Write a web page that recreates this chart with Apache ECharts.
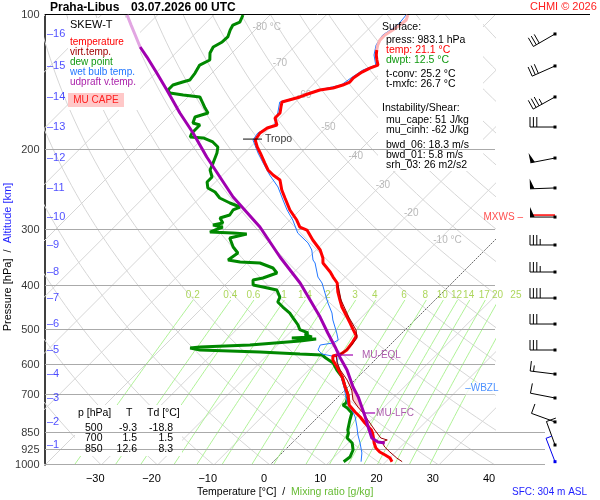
<!DOCTYPE html>
<html><head><meta charset="utf-8">
<script src="https://cdn.jsdelivr.net/npm/echarts@6/dist/echarts.min.js"></script>
<style>html,body{margin:0;padding:0;background:#fff}#c{width:600px;height:500px}</style>
</head><body><div id="c"></div>
<script>
// ---------------- data ----------------
const tempP = [100,102.6,105.3,108,110.8,113.7,116.6,119.6,122.7,125.9,129.2,131.2,133.9,138,140.9,143.1,145.3,146.8,150.6,152.1,156.1,160.1,165.1,169.4,175.6,178.3,182.9,189.6,196.5,202.6,213.3,221,226.8,232.6,244.8,255.1,271.2,285.5,295.9,300.5,316.2,332.8,346.7,355.7,372.5,382.2,394.1,412.6,429.9,445.6,469,483.6,500,516.7,535.6,555.2,566.7,572.5,584.3,605.6,637.6,671,700,735.6,762.4,782.1,806.5,836,850,871,893.5,916.7,935.6,950.1,965,983.1];
const tempT = [-55.5,-54.9,-55.1,-55.5,-56.0,-56.0,-55.5,-54.8,-54.0,-53.0,-51.9,-52.8,-53.5,-54.0,-53.9,-54.6,-55.8,-57.8,-59.6,-60.1,-62.4,-61.7,-60.8,-60.8,-59.2,-60.4,-60.8,-60.4,-58.8,-57.2,-54.6,-52.8,-51.0,-48.9,-46.8,-44.8,-41.8,-38.8,-37.0,-35.2,-32.4,-29.3,-27.4,-26.5,-23.6,-22.2,-20.4,-18.7,-16.9,-15.3,-12.6,-11.0,-9.3,-7.6,-7.1,-6.8,-7.1,-8.2,-7.5,-5.5,-2.8,-0.5,1.5,3.4,5.7,7.5,9.4,11.8,12.6,13.6,14.6,15.8,17.2,18.7,20.1,21.1];

const dewP = [100,103.7,105.3,108,111.9,114.8,117.8,121.5,125.9,129.2,134.6,139.5,140.9,143.1,146.8,149.1,150.6,152.1,156.9,161,165.1,168.5,173.8,175.6,178.3,182.9,186.7,187.6,191.5,196.5,202.6,213.3,221,229.1,235,242.3,247.4,255.1,261.7,267.1,271.2,278.3,282.6,289.9,292.9,295.9,303.6,305.2,306.7,313.1,327.8,338,350.3,353.9,355.7,364.9,374.4,384.1,388.1,398.1,402.2,408.4,423.4,434.3,445.6,459.5,471.4,488.5,500,508.9,514.2,519.4,522.1,524.8,530.2,535.6,541.2,546.7,549.5,555.2,560.9,566.7,569.6,578.4,593.4,615,637.6,671,700,728,735.6,743.1,746.9,766.3,794.3,836,850,871,893.5,926.1,960.1,983.1];
const dewT = [-84.8,-84.1,-84.8,-84.4,-83.6,-83.7,-84.4,-83.9,-82.7,-83.6,-83.0,-82.7,-83.6,-84.8,-84.8,-83.9,-81.2,-77.9,-76.3,-75.0,-73.6,-75.2,-74.5,-72.9,-72.9,-72.9,-72.5,-70.0,-67.6,-65.8,-64.9,-63.8,-63.1,-61.5,-61.5,-60.3,-58.3,-56.4,-53.7,-51.2,-51.9,-51.6,-52.8,-51.4,-52.8,-50.7,-52.1,-47.8,-45.2,-47.5,-45.3,-43.4,-43.9,-41.4,-37.7,-34.5,-32.9,-34.5,-35.9,-35.0,-32.9,-29.9,-28.1,-27.6,-25.8,-23.5,-22.0,-19.9,-18.8,-16.7,-16.9,-15.3,-18.7,-14.2,-16.7,-16.4,-24.9,-33.4,-35.0,-32.9,-21.9,-14.4,-10.3,-9.1,-6.9,-5.0,-2.8,-0.5,1.5,2.5,2.3,2.5,3.6,5.3,6.2,7.6,8.3,8.9,10.7,12.1,12.8,12.5];

const wbP = [100,105.3,110.8,116.6,122.7,129.2,132.5,138,143.1,146.8,152.1,156.1,165.1,175.6,182.9,189.6,202.6,213.3,226.8,241.1,257.7,271.2,285.5,305.2,321.1,332.8,350.3,355.7,382.2,394.1,414.8,436.5,459.5,476.2,508.9,527.5,535.6,541.2,555.2,566.7,575.4,599.5,637.6,671,706.1,735.6,746.9,762.4,782.1,823.2,857.7,893.5,940.4,983.1];
const wbT = [-55.8,-55.5,-56.4,-55.8,-54.4,-52.3,-53.7,-54.4,-54.9,-58.1,-60.4,-62.8,-61.2,-59.6,-61.2,-60.8,-57.6,-54.9,-51.6,-48.0,-44.8,-42.3,-39.5,-36.3,-32.7,-30.8,-28.8,-27.9,-24.9,-23.1,-20.8,-18.5,-16.0,-14.6,-11.6,-10.1,-10.5,-12.4,-11.9,-10.5,-7.3,-5.7,-3.0,-0.7,1.4,3.2,4.1,5.3,6.6,8.7,10.3,12.1,14.2,15.6];

const parP = [100,105.3,110.8,117.8,124,134.6,146.8,165.1,182.9,206.8,229.1,253.8,295.9,345,394.1,429.9,469,508.9,546.7,575.4,615,671,706.1,743.1,782.1,823.2,871,888.9,893.5];
const parT = [-105.4,-102.9,-100.4,-97.4,-94.4,-89.8,-85.0,-78.6,-72.7,-66.0,-60.1,-54.2,-44.1,-35.2,-27.0,-22.2,-17.4,-13.2,-9.4,-6.8,-3.2,0.9,3.6,6.0,8.4,10.7,13.3,15.1,16.5];

const tvP = [398.1,429.9,469,501.2,522.1,541.2,560.9,572.5,590.4,615,647.3,681.3,717.1,743.1,766.3,794.3,836,871,879.9,888.9,912,935.6,965,983.1];
const tvT = [-19.9,-16.7,-12.3,-8.7,-7.1,-6.8,-6.9,-7.6,-6.4,-4.4,-1.4,1.2,3.2,5.3,7.3,9.4,12.4,14.9,16.4,15.8,17.2,19.0,21.3,22.9];

const isobarP = [100,200,300,400,500,600,700,850,925,1000];
const altKm = [16,15,14,13,12,11,10,9,8,7,6,5,4,3,2,1];
const altP = [110.2,129.8,152.1,177.4,207.9,242.3,281.2,324.4,372.5,425.6,486.1,555.2,627.9,709.7,802.2,902.7];
const isoLabT = [-80,-70,-60,-50,-40,-30,-20,-10];
const isoLabP = [106.3,127.9,150.6,177.4,205.7,238.7,275.4,316.2];
const mixW = [0.2,0.4,0.6,1,1.4,2,3,4,6,8,10,12,14,17,20,25];

const windP = [110.2,129.8,152.1,177.4,207.9,242.3,281.2,324.4,372.5,425.6,486.1,555.2,627.9,709.7,802.2,902.7,983.1];
const windDir = [240,246,241,270,259,268,270,270,270,270,270,270,277,281,290,340,339];
const windKt = [30,30,35,30,50,50,50,35,35,40,30,30,15,10,10,10,5];
const mxwsP = 281.2;

const tropoP = 188.7, tropoT = -60.6;
const eqlP = 569.6, eqlT = -8.0;
const lfcP = 766.3, lfcT = 7.3;
const wbzlP = 676.5;
const capeTop = 640, capeBot = 770;

const tabP = [500,700,850];
const tabT = [-9.3,1.5,12.6];
const tabTd = [-18.8,1.5,8.3];

// ---------------- helpers ----------------
const FONT = '"Liberation Sans", Arial, sans-serif';
const SKEW = 80; // degrees C of skew per pressure decade
const sk = (T, p) => [T + SKEW * Math.log10(1000 / p), p];
const prof = (P, T, f) => P.map((p, i) => [p, T[i]]).filter(d => !f || f(d[0])).map(d => sk(d[1], d[0]));
const wT = (w, p) => { const e = w * p / (622 + w); const l = Math.log(e / 6.112); return 243.5 * l / (17.67 - l); };

function line(data, color, width, z, extra) {
  return Object.assign({ type: 'line', data, showSymbol: false, symbol: 'none', silent: true, animation: false,
    lineStyle: { color, width }, z, clip: true }, extra || {});
}
function lbl(data, label, z) {
  return { type: 'scatter', data, symbolSize: 1, itemStyle: { color: 'rgba(0,0,0,0)' }, silent: true, clip: false, animation: false,
    label: Object.assign({ show: true, formatter: '{b}', fontFamily: FONT }, label), z: z || 6 };
}

const series = [];
// isotherms
for (let T = -120; T <= 40; T += 10) {
  series.push(line([sk(T, 1000), sk(T, 100)], T === 0 ? '#444' : '#d6d6d6', T === 0 ? 0.8 : 1, 0,
    T === 0 ? { lineStyle: { color: '#444', width: 0.8, type: [2, 1] } } : null));
}
// dry adiabats
const pp = []; for (let p = 1000; p >= 99; p *= 0.96) pp.push(p); pp.push(100);
for (let th = -40; th <= 180; th += 10) {
  series.push(line(pp.map(p => sk((th + 273.15) * Math.pow(p / 1000, 0.2857) - 273.15, p)), '#d6d6d6', 1, 0));
}
// mixing ratio lines
const mp = []; for (let p = 1000; p >= 430; p -= 10) mp.push(p);
mixW.forEach(w => series.push(line(mp.map(p => sk(wT(w, p), p)), '#a6f08a', 0.9, 0)));
series.push(lbl(mixW.map(w => ({ name: String(w), value: sk(wT(w, 419), 419) })),
  { position: 'inside', offset: [-4, 0], fontSize: 10, color: '#99cc33' }, 1));

// isobars
series.push({ type: 'custom', silent: true, animation: false, clip: false, z: 1,
  data: isobarP.map(p => [0, p]),
  renderItem: (params, api) => {
    const p = api.value(1); const y = Math.round(api.coord([0, p])[1]) - 0.5;
    const cs = params.coordSys;
    let x2 = cs.x + cs.width, col = '#aaaaaa';
    if (p === 100) { x2 = cs.x + cs.width + 95; col = '#000'; }
    else if (p >= 850) x2 = cs.x + cs.width + 50;
    return { type: 'line', shape: { x1: cs.x, y1: y, x2: x2, y2: y }, style: { stroke: col, lineWidth: 1 } };
  } });

// CAPE fill
series.push({ type: 'custom', silent: true, animation: false, z: 2, data: [[0, 600]],
  renderItem: (params, api) => {
    const a = prof(parP, parT, p => p >= capeTop && p <= capeBot);
    const b = prof(tvP, tvT, p => p >= capeTop && p <= capeBot).reverse();
    const pts = a.concat(b).map(d => api.coord(d));
    return { type: 'polygon', shape: { points: pts }, style: { fill: '#ffcccc' } };
  } });

// profiles
series.push(line(prof(dewP, dewT), '#008800', 3, 3));
series.push(line(prof(wbP, wbT), '#2277ff', 1, 3));
series.push(line(prof(tempP, tempT, p => p <= 119.6), '#ffb4b4', 3, 3));
series.push(line(prof(tempP, tempT, p => p >= 119.6), '#ff0000', 3, 3));
series.push(line(prof(tvP, tvT), '#990000', 1, 3));
series.push(line(prof(parP, parT, p => p <= 117.8), '#e2a6e2', 3, 3));
series.push(line(prof(parP, parT, p => p >= 117.8), '#a000b0', 3, 3));

// markers
series.push({ type: 'scatter', data: [{ name: 'Tropo', value: sk(tropoT, tropoP) }], symbol: 'rect', symbolSize: [19, 1.2], symbolOffset: [-2.5, 0],
  itemStyle: { color: '#000' }, silent: true, clip: false, animation: false, z: 6,
  label: { show: true, formatter: '{b}', position: 'right', distance: 3, fontSize: 10.5, color: '#000', fontFamily: FONT } });
series.push({ type: 'scatter', data: [{ name: 'MU-EQL', value: sk(eqlT, eqlP) }], symbol: 'rect', symbolSize: [18, 1.5], symbolOffset: [9, 0],
  itemStyle: { color: '#a000b0' }, silent: true, clip: false, animation: false, z: 6,
  label: { show: true, formatter: '{b}', position: 'right', distance: 9, fontSize: 10, color: '#993399', fontFamily: FONT } });
series.push({ type: 'scatter', data: [{ name: 'MU-LFC', value: sk(lfcT, lfcP) }], symbol: 'rect', symbolSize: [12, 1.5], symbolOffset: [6, 0],
  itemStyle: { color: '#a000b0' }, silent: true, clip: false, animation: false, z: 6,
  label: { show: true, formatter: '{b}', position: 'right', distance: 1, fontSize: 10, color: '#993399', fontFamily: FONT } });

// axis-side labels
series.push(lbl(isobarP.map(p => ({ name: String(p), value: [-40, p] })), { position: 'left', distance: 5, fontSize: 11, color: '#000' }));
series.push(lbl(altP.map((p, i) => ({ name: '\u2013' + altKm[i], value: [-40, p] })), { position: 'right', distance: 1.5, fontSize: 11, color: '#1e1eff' }));
series.push(lbl(isoLabT.map((t, i) => ({ name: (t === -80 || t === -10) ? t + ' \u00b0C' : String(t), value: sk(t, isoLabP[i]) })),
  { position: 'right', distance: 0, offset: [-6, 0], fontSize: 10, color: '#a8a8a8' }, 1));
series.push(lbl([{ name: 'MXWS \u2013', value: [40, mxwsP] }], { position: 'right', distance: 0, offset: [-12, 0], fontSize: 10, color: '#ff2020' }));
series.push(lbl([{ name: '\u2013WBZL', value: [40, wbzlP] }], { position: 'left', distance: 0, offset: [6, 0], fontSize: 10, color: '#2277ff',
  backgroundColor: '#fff', padding: [1, 2, 1, 0] }));

// wind barbs
const mxIdx = windP.indexOf(mxwsP);
series.push({ type: 'custom', silent: true, animation: false, clip: false, z: 5,
  data: windP.map((p, i) => [40, p, windDir[i], windKt[i]]),
  renderItem: (params, api) => {
    const p = api.value(1), dir = api.value(2), spd = api.value(3), i = params.dataIndex;
    const pt = api.coord([40, p]);
    const cx = pt[0] + 60, cy = pt[1];
    const sfc = i === windP.length - 1, mx = i === mxIdx;
    const col = sfc ? '#0000ee' : '#000';
    const r = dir * Math.PI / 180, ux = Math.sin(r), uy = -Math.cos(r), nx = -uy, ny = ux;
    const L = 25, P = d => [cx + ux * d, cy + uy * d];
    const ch = [];
    const tip = P(L);
    if (mx) ch.push({ type: 'line', shape: { x1: cx, y1: cy - 2, x2: tip[0], y2: tip[1] - 2 }, style: { stroke: '#ff0000', lineWidth: 1.5 } });
    ch.push({ type: 'line', shape: { x1: cx, y1: cy, x2: tip[0], y2: tip[1] }, style: { stroke: mx ? '#000' : col, lineWidth: 1 } });
    let rest = Math.round(spd / 5) * 5, pos = L;
    while (rest >= 50) {
      const a = P(pos), b = P(pos - 4.5);
      ch.push({ type: 'polygon', shape: { points: [a, b, [a[0] + nx * 10, a[1] + ny * 10]] }, style: { fill: col } });
      pos -= 5.5; rest -= 50;
    }
    while (rest >= 10) {
      const a = P(pos);
      ch.push({ type: 'line', shape: { x1: a[0], y1: a[1], x2: a[0] + nx * 10, y2: a[1] + ny * 10 }, style: { stroke: col, lineWidth: 1 } });
      pos -= 3.4; rest -= 10;
    }
    if (rest >= 5) {
      const a = P(pos);
      ch.push({ type: 'line', shape: { x1: a[0], y1: a[1], x2: a[0] + nx * 6, y2: a[1] + ny * 6 }, style: { stroke: col, lineWidth: 1 } });
    }
    ch.push({ type: 'rect', shape: { x: cx - 1.5, y: cy - 1.5, width: 3, height: 3 }, style: { fill: col } });
    return { type: 'group', children: ch };
  } });

// ---------------- text blocks ----------------
const T = (x, y, text, o) => Object.assign({ type: 'text', x, y, z: 10, silent: true,
  style: Object.assign({ text, fill: '#000', font: (o && o.font) || '10.5px ' + FONT, verticalAlign: 'middle', align: 'left' }, (o && o.style) || {}) });
const R = (x, y, w, h, fill, z) => ({ type: 'rect', shape: { x, y, width: w, height: h }, style: { fill }, z: z || 1, silent: true });

const g = [
  R(68, 18, 72, 92, '#fff'), R(68, 93, 56, 14, '#ffc8c8', 2), R(378, 20, 105, 151, '#fff'), R(75, 405, 107, 51, '#fff'),
  T(50, 8, 'Praha-Libus', { font: 'bold 12px ' + FONT }),
  T(131, 8, '03.07.2026 00 UTC', { font: 'bold 12px ' + FONT }),
  T(530, 7, 'CHMI \u00a9 2026', { font: '11px ' + FONT, style: { fill: '#ff2020' } }),
  T(70, 25, 'SKEW-T', { font: '11px ' + FONT }),
  T(70, 42, 'temperature', { font: '10px ' + FONT, style: { fill: '#ff0000' } }),
  T(70, 52, 'virt.temp.', { font: '10px ' + FONT, style: { fill: '#a00000' } }),
  T(70, 62, 'dew point', { font: '10px ' + FONT, style: { fill: '#119911' } }),
  T(70, 72, 'wet bulb temp.', { font: '10px ' + FONT, style: { fill: '#2277ff' } }),
  T(70, 82, 'udpraft v.temp.', { font: '10px ' + FONT, style: { fill: '#aa22aa' } }),
  T(96, 100, 'MU CAPE', { font: '10px ' + FONT, style: { fill: '#ff2020', align: 'center' } }),
  T(382, 27, 'Surface:'),
  T(386, 40, 'press: 983.1 hPa'),
  T(386, 50, 'temp: 21.1 \u00b0C', { style: { fill: '#ff0000' } }),
  T(386, 60, 'dwpt: 12.5 \u00b0C', { style: { fill: '#119911' } }),
  T(386, 74, 't-conv: 25.2 \u00b0C'),
  T(386, 84, 't-mxfc: 26.7 \u00b0C'),
  T(382, 108, 'Instability/Shear:'),
  T(386, 120, 'mu_cape: 51 J/kg'),
  T(386, 130, 'mu_cinh: -62 J/kg'),
  T(386, 145, 'bwd_06: 18.3 m/s'),
  T(386, 155, 'bwd_01: 5.8 m/s'),
  T(386, 165, 'srh_03: 26 m2/s2'),
  T(78, 413, 'p [hPa]'), T(126, 413, 'T'), T(147, 413, 'Td [\u00b0C]'),
  T(512, 492, 'SFC: 304 m ASL', { font: '10px ' + FONT, style: { fill: '#1e1eff' } }),
  { type: 'text', x: 197, y: 492, z: 10, silent: true, style: { text: '{a|Temperature [\u00b0C]}{a|  /  }{b|Mixing ratio [g/kg]}', verticalAlign: 'middle', align: 'left', font: '10.5px ' + FONT,
    rich: { a: { fill: '#000', color: '#000', fontSize: 10.5, fontFamily: FONT }, b: { fill: '#66bb33', color: '#66bb33', fontSize: 10.5, fontFamily: FONT } } } },
  { type: 'text', x: 8, y: 257, rotation: Math.PI / 2, z: 10, silent: true, style: { text: '{a|Pressure [hPa]}{a|  /  }{b|Altitude [km]}', verticalAlign: 'middle', align: 'center', font: '11px ' + FONT,
    rich: { a: { fill: '#000', color: '#000', fontSize: 11, fontFamily: FONT }, b: { fill: '#1e1eff', color: '#1e1eff', fontSize: 11, fontFamily: FONT } } } }
];
const rowY = [428, 438.5, 449];
tabP.forEach((p, i) => {
  g.push(T(85, rowY[i], String(p)));
  g.push(T(137, rowY[i], tabT[i].toFixed(1), { style: { align: 'right' } }));
  g.push(T(173, rowY[i], tabTd[i].toFixed(1), { style: { align: 'right' } }));
});

const chart = echarts.init(document.getElementById('c'), null, { renderer: 'canvas' });
chart.setOption({
  backgroundColor: '#fff',
  animation: false,
  grid: { left: 45, top: 15, right: 105, bottom: 35 },
  xAxis: { type: 'value', min: -40, max: 40, interval: 10, axisLine: { show: false }, axisTick: { show: false }, splitLine: { show: false },
    axisLabel: { fontSize: 11, color: '#000', fontFamily: FONT, margin: 8, padding: [0, 12, 0, 0],
      formatter: v => v === -40 ? '' : (v < 0 ? '\u2212' + (-v) : String(v)) } },
  yAxis: { type: 'log', logBase: 10, min: 100, max: 1000, inverse: true,
    axisLine: { show: true, onZero: false, lineStyle: { color: '#000', width: 1.5 } }, axisTick: { show: false }, axisLabel: { show: false }, splitLine: { show: false } },
  series,
  graphic: g
});
</script></body></html>
